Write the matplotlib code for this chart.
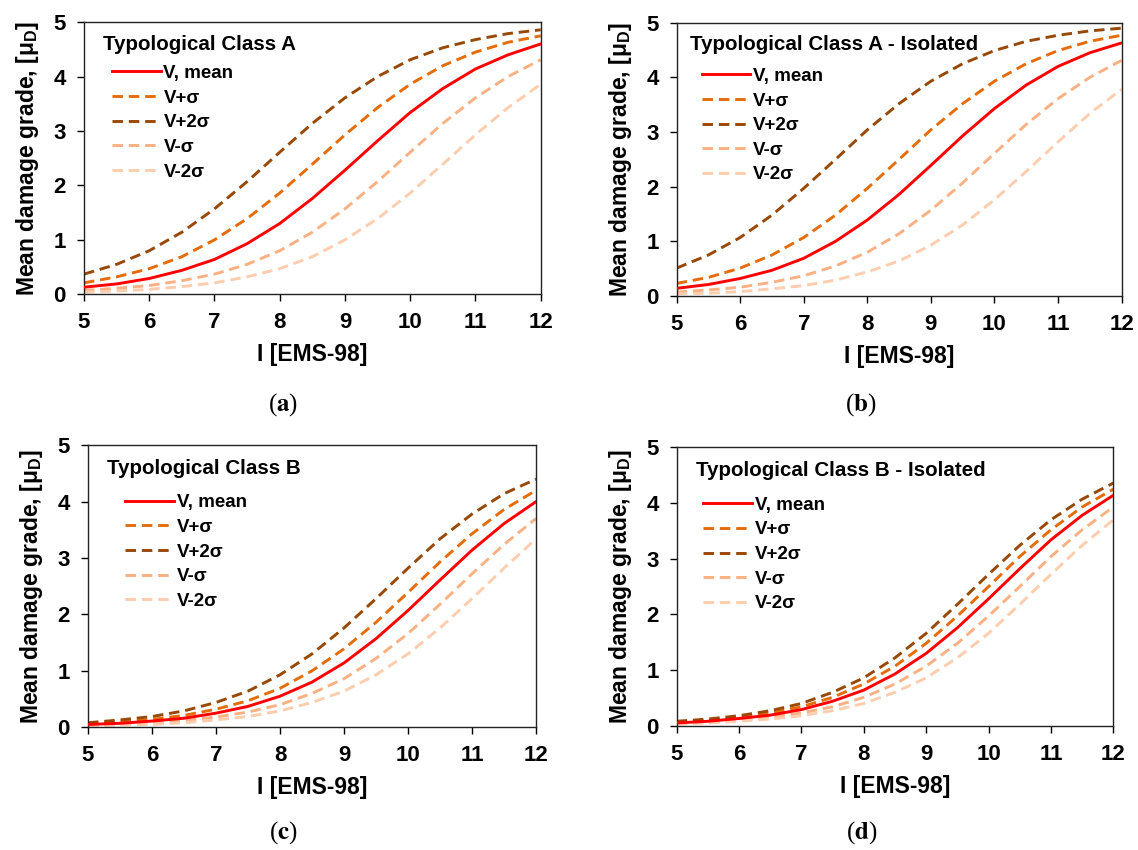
import matplotlib
matplotlib.use("Agg")
import numpy as np
from matplotlib import pyplot as plt

plt.rcParams['font.family'] = ['Liberation Sans', 'DejaVu Sans']
plt.rcParams['font.weight'] = 'bold'
plt.rcParams['mathtext.fontset'] = 'custom'
plt.rcParams['mathtext.rm'] = 'Liberation Sans:bold'
plt.rcParams['mathtext.bf'] = 'Liberation Sans:bold'

# Intensity steps (EMS-98)
intensity = [5, 5.5, 6, 6.5, 7, 7.5, 8, 8.5, 9, 9.5, 10, 10.5, 11, 11.5, 12]

# Typological class A
a_mean = [0.13, 0.19, 0.29, 0.44, 0.64, 0.93, 1.30, 1.76, 2.28, 2.82, 3.34, 3.78, 4.14, 4.40, 4.60]
a_p1 = [0.21, 0.32, 0.47, 0.69, 1.00, 1.39, 1.86, 2.39, 2.93, 3.43, 3.86, 4.20, 4.45, 4.63, 4.75]
a_p2 = [0.37, 0.55, 0.80, 1.14, 1.57, 2.07, 2.61, 3.14, 3.61, 4.00, 4.31, 4.53, 4.68, 4.79, 4.86]
a_m1 = [0.07, 0.11, 0.16, 0.25, 0.37, 0.55, 0.80, 1.14, 1.57, 2.07, 2.61, 3.14, 3.61, 4.00, 4.31]
a_m2 = [0.04, 0.06, 0.09, 0.14, 0.21, 0.32, 0.47, 0.69, 1.00, 1.39, 1.86, 2.39, 2.93, 3.43, 3.86]

# Typological class A - isolated
b_mean = [0.14, 0.21, 0.32, 0.47, 0.69, 1.00, 1.39, 1.86, 2.39, 2.93, 3.43, 3.86, 4.20, 4.45, 4.63]
b_p1 = [0.23, 0.34, 0.51, 0.75, 1.07, 1.48, 1.97, 2.50, 3.04, 3.52, 3.93, 4.25, 4.49, 4.66, 4.77]
b_p2 = [0.51, 0.75, 1.07, 1.48, 1.97, 2.50, 3.04, 3.52, 3.93, 4.25, 4.49, 4.66, 4.77, 4.85, 4.90]
b_m1 = [0.07, 0.11, 0.16, 0.25, 0.37, 0.55, 0.80, 1.14, 1.57, 2.07, 2.61, 3.14, 3.61, 4.00, 4.31]
b_m2 = [0.04, 0.05, 0.08, 0.13, 0.19, 0.29, 0.44, 0.64, 0.93, 1.30, 1.76, 2.28, 2.82, 3.34, 3.78]

# Typological class B
c_mean = [0.05, 0.07, 0.11, 0.16, 0.25, 0.37, 0.55, 0.80, 1.14, 1.57, 2.07, 2.61, 3.14, 3.61, 4.00]
c_p1 = [0.06, 0.09, 0.14, 0.21, 0.32, 0.47, 0.69, 1.00, 1.39, 1.86, 2.39, 2.93, 3.43, 3.86, 4.20]
c_p2 = [0.08, 0.13, 0.19, 0.29, 0.44, 0.64, 0.93, 1.30, 1.76, 2.28, 2.82, 3.34, 3.78, 4.14, 4.40]
c_m1 = [0.03, 0.05, 0.08, 0.12, 0.18, 0.27, 0.40, 0.60, 0.86, 1.22, 1.66, 2.18, 2.72, 3.24, 3.70]
c_m2 = [0.02, 0.04, 0.05, 0.08, 0.13, 0.19, 0.29, 0.44, 0.64, 0.93, 1.30, 1.76, 2.28, 2.82, 3.34]

# Typological class B - isolated
d_mean = [0.05, 0.08, 0.13, 0.19, 0.29, 0.44, 0.64, 0.93, 1.30, 1.76, 2.28, 2.82, 3.34, 3.78, 4.14]
d_p1 = [0.06, 0.10, 0.15, 0.23, 0.34, 0.51, 0.75, 1.07, 1.48, 1.97, 2.50, 3.04, 3.52, 3.93, 4.25]
d_p2 = [0.08, 0.12, 0.18, 0.27, 0.40, 0.60, 0.86, 1.22, 1.66, 2.18, 2.72, 3.24, 3.70, 4.07, 4.36]
d_m1 = [0.04, 0.06, 0.10, 0.15, 0.23, 0.34, 0.51, 0.75, 1.07, 1.48, 1.97, 2.50, 3.04, 3.52, 3.93]
d_m2 = [0.03, 0.05, 0.08, 0.12, 0.18, 0.27, 0.40, 0.60, 0.86, 1.22, 1.66, 2.18, 2.72, 3.24, 3.70]

series_labels = ['V, mean', 'V+σ', 'V+2σ', 'V-σ', 'V-2σ']
series_colors = ['#FF0000', '#E46C0A', '#984807', '#F9B183', '#FCCDAE']

panels = [
    dict(title='Typological Class A', caption='a', curves=[a_mean, a_p1, a_p2, a_m1, a_m2],
         rect=[0.0738, 0.6538, 0.4013, 0.3201], title_x=0.042, title_y=0.918, leg=(0.061, 0.843),
         cap_xy=(0.249, 0.524)),
    dict(title='Typological Class A - Isolated', caption='b', curves=[b_mean, b_p1, b_p2, b_m1, b_m2],
         rect=[0.5946, 0.6518, 0.3910, 0.3215], title_x=0.030, title_y=0.921, leg=(0.056, 0.835),
         cap_xy=(0.756, 0.524)),
    dict(title='Typological Class B', caption='c', curves=[c_mean, c_p1, c_p2, c_m1, c_m2],
         rect=[0.0773, 0.1444, 0.3937, 0.3318], title_x=0.042, title_y=0.918, leg=(0.083, 0.826),
         cap_xy=(0.249, 0.020)),
    dict(title='Typological Class B - Isolated', caption='d', curves=[d_mean, d_p1, d_p2, d_m1, d_m2],
         rect=[0.5946, 0.1462, 0.3837, 0.3274], title_x=0.044, title_y=0.917, leg=(0.061, 0.823),
         cap_xy=(0.757, 0.021)),
]

fig = plt.figure(figsize=(11.38, 8.5), dpi=100)

for p in panels:
    ax = fig.add_axes(p['rect'])
    for vals, lab, col in zip(p['curves'], series_labels, series_colors):
        if lab == 'V, mean':
            ax.plot(intensity, vals, color=col, lw=2.1, label=lab, zorder=3)
        else:
            ax.plot(intensity, vals, color=col, lw=2.1, dashes=(3.6, 2.0), label=lab, zorder=2)

    ax.set_xlim(5, 12)
    ax.set_ylim(0, 5)
    ax.set_xticks(range(5, 13))
    ax.set_yticks(range(0, 6))
    ax.tick_params(direction='out', length=5, width=1, labelsize=16, pad=8)
    for s in ax.spines.values():
        s.set_linewidth(1.0)
        s.set_color('#222222')

    ax.set_xlabel('I [EMS-98]', fontsize=16.5, fontweight='bold', labelpad=7)
    ax.set_ylabel('Mean damage grade, [μ$_{\\mathbf{D}}$]', fontsize=16.5, fontweight='bold', labelpad=9)

    ax.text(p['title_x'], p['title_y'], p['title'], transform=ax.transAxes,
            fontsize=14.8, fontweight='bold', va='center', ha='left')
    ax.legend(loc='upper left', bbox_to_anchor=p['leg'], frameon=False, fontsize=13.5,
              handlelength=2.6, handletextpad=0.15, labelspacing=0.4,
              borderpad=0, borderaxespad=0)

    fig.text(p['cap_xy'][0], p['cap_xy'][1], '($\\mathbf{%s}$)' % p['caption'],
             family='Liberation Serif', fontweight='normal', fontsize=18,
             math_fontfamily='stix', ha='center', va='center')

fig.savefig('out.png', dpi=100)
